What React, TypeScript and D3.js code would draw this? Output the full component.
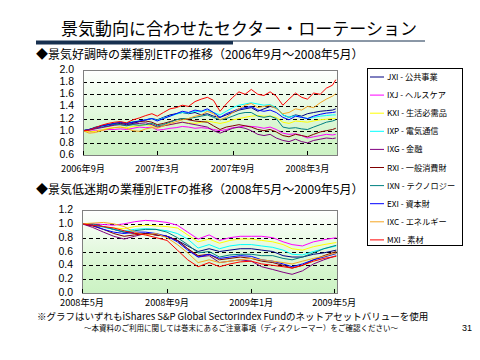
import React from 'react';
import * as d3 from 'd3';

// legend / series meta
const codes = ['JXI', 'IXJ', 'KXI', 'IXP', 'IXG', 'RXI', 'IXN', 'EXI', 'IXC', 'MXI'];
const names = ['公共事業', 'ヘルスケア', '生活必需品', '電気通信', '金融', '一般消費財', 'テクノロジー', '資本財', 'エネルギー', '素材'];
const colors = ['#000080', '#ff00ff', '#ffff00', '#00ffff', '#800080', '#800000', '#008080', '#0000ff', '#f5a623', '#ff0000'];

// 2006/9 - 2008/5
const topDates = [
  '2006-09-01', '2006-09-16', '2006-10-01', '2006-10-16', '2006-11-01', '2006-11-16', '2006-12-01', '2006-12-16',
  '2007-01-01', '2007-01-16', '2007-02-01', '2007-02-16', '2007-03-01', '2007-03-16', '2007-04-01', '2007-04-16',
  '2007-05-01', '2007-05-16', '2007-06-01', '2007-06-16', '2007-07-01', '2007-07-16', '2007-08-01', '2007-08-16',
  '2007-09-01', '2007-09-16', '2007-10-01', '2007-10-16', '2007-11-01', '2007-11-16', '2007-12-01', '2007-12-16',
  '2008-01-01', '2008-01-16', '2008-02-01', '2008-02-16', '2008-03-01', '2008-03-16', '2008-04-01', '2008-04-16',
  '2008-05-01', '2008-05-09',
];
const topJXI = [1.0, 1.02, 1.04, 1.06, 1.08, 1.10, 1.12, 1.10, 1.12, 1.15, 1.18, 1.20, 1.18, 1.22, 1.26, 1.28, 1.30, 1.28, 1.30, 1.26, 1.28, 1.24, 1.22, 1.26, 1.30, 1.34, 1.36, 1.38, 1.32, 1.36, 1.40, 1.38, 1.26, 1.22, 1.26, 1.24, 1.28, 1.30, 1.32, 1.33, 1.34, 1.36];
const topIXJ = [1.0, 0.99, 1.00, 1.01, 1.02, 1.02, 1.03, 1.02, 1.04, 1.06, 1.05, 1.06, 1.01, 1.02, 1.04, 1.05, 1.07, 1.06, 1.04, 1.05, 1.04, 1.02, 1.00, 1.02, 1.05, 1.06, 1.08, 1.07, 1.06, 1.04, 1.06, 1.02, 0.96, 0.94, 0.95, 0.92, 0.88, 0.90, 0.92, 0.94, 0.93, 0.94];
const topKXI = [1.0, 0.98, 0.99, 1.01, 1.04, 1.05, 1.06, 1.05, 1.07, 1.08, 1.10, 1.08, 1.06, 1.08, 1.10, 1.12, 1.14, 1.13, 1.12, 1.14, 1.16, 1.14, 1.12, 1.14, 1.18, 1.20, 1.22, 1.24, 1.25, 1.24, 1.24, 1.22, 1.14, 1.12, 1.16, 1.15, 1.14, 1.16, 1.18, 1.19, 1.20, 1.20];
const topIXP = [1.0, 1.02, 1.05, 1.07, 1.09, 1.12, 1.14, 1.13, 1.15, 1.16, 1.18, 1.20, 1.17, 1.21, 1.24, 1.27, 1.30, 1.29, 1.32, 1.31, 1.34, 1.30, 1.26, 1.32, 1.38, 1.42, 1.44, 1.46, 1.44, 1.42, 1.43, 1.38, 1.26, 1.22, 1.25, 1.22, 1.20, 1.22, 1.24, 1.25, 1.26, 1.26];
const topIXG = [1.0, 1.01, 1.03, 1.05, 1.07, 1.09, 1.10, 1.09, 1.11, 1.12, 1.13, 1.10, 1.06, 1.08, 1.10, 1.12, 1.14, 1.12, 1.10, 1.08, 1.06, 1.00, 0.96, 1.00, 1.04, 1.06, 1.04, 1.00, 0.94, 0.92, 0.94, 0.88, 0.84, 0.82, 0.86, 0.82, 0.80, 0.84, 0.86, 0.88, 0.87, 0.88];
const topRXI = [1.0, 1.02, 1.05, 1.08, 1.10, 1.12, 1.13, 1.12, 1.14, 1.15, 1.16, 1.14, 1.10, 1.12, 1.15, 1.18, 1.20, 1.18, 1.16, 1.15, 1.14, 1.08, 1.02, 1.06, 1.08, 1.10, 1.08, 1.06, 1.02, 1.00, 1.02, 0.98, 0.92, 0.90, 0.94, 0.92, 0.90, 0.94, 0.98, 1.00, 1.02, 1.04];
const topIXN = [1.0, 1.02, 1.06, 1.08, 1.10, 1.11, 1.10, 1.08, 1.10, 1.09, 1.10, 1.12, 1.08, 1.10, 1.14, 1.18, 1.20, 1.20, 1.22, 1.24, 1.26, 1.22, 1.18, 1.20, 1.24, 1.28, 1.30, 1.30, 1.24, 1.22, 1.24, 1.20, 1.06, 1.04, 1.05, 1.03, 1.02, 1.06, 1.10, 1.14, 1.16, 1.18];
const topEXI = [1.0, 1.02, 1.05, 1.08, 1.10, 1.12, 1.14, 1.12, 1.14, 1.16, 1.18, 1.20, 1.16, 1.20, 1.24, 1.28, 1.32, 1.30, 1.34, 1.32, 1.36, 1.30, 1.22, 1.28, 1.32, 1.36, 1.38, 1.40, 1.34, 1.32, 1.34, 1.30, 1.22, 1.18, 1.24, 1.22, 1.20, 1.24, 1.27, 1.29, 1.30, 1.31];
const topIXC = [1.0, 0.96, 0.97, 1.00, 1.03, 1.05, 1.06, 1.04, 1.00, 0.99, 1.03, 1.05, 1.04, 1.08, 1.12, 1.15, 1.18, 1.20, 1.24, 1.26, 1.32, 1.28, 1.18, 1.22, 1.30, 1.36, 1.42, 1.45, 1.38, 1.40, 1.42, 1.36, 1.28, 1.30, 1.36, 1.34, 1.40, 1.38, 1.46, 1.52, 1.57, 1.61];
const topMXI = [1.0, 1.01, 1.05, 1.09, 1.12, 1.14, 1.15, 1.13, 1.18, 1.21, 1.25, 1.28, 1.24, 1.30, 1.36, 1.38, 1.42, 1.40, 1.48, 1.52, 1.55, 1.50, 1.32, 1.44, 1.55, 1.64, 1.60, 1.68, 1.60, 1.58, 1.64, 1.57, 1.42, 1.52, 1.62, 1.55, 1.52, 1.62, 1.60, 1.70, 1.75, 1.84];

// 2008/5 - 2009/5
const botDates = [
  '2008-05-01', '2008-05-16', '2008-06-01', '2008-06-16', '2008-07-01', '2008-07-16', '2008-08-01', '2008-08-16',
  '2008-09-01', '2008-09-16', '2008-10-01', '2008-10-16', '2008-11-01', '2008-11-16', '2008-12-01', '2008-12-16',
  '2009-01-01', '2009-01-16', '2009-02-01', '2009-02-16', '2009-03-01', '2009-03-16', '2009-04-01', '2009-04-16',
  '2009-05-04',
];
const botJXI = [1.0, 0.98, 0.96, 0.92, 0.88, 0.86, 0.86, 0.84, 0.82, 0.76, 0.68, 0.60, 0.64, 0.60, 0.62, 0.64, 0.64, 0.62, 0.60, 0.54, 0.52, 0.52, 0.56, 0.58, 0.62];
const botIXJ = [1.0, 1.0, 0.99, 0.98, 1.00, 1.03, 1.05, 1.04, 1.02, 0.98, 0.88, 0.78, 0.84, 0.76, 0.80, 0.82, 0.82, 0.82, 0.80, 0.74, 0.70, 0.68, 0.74, 0.77, 0.80];
const botKXI = [1.0, 0.98, 0.96, 0.94, 0.93, 0.96, 0.98, 0.97, 0.96, 0.94, 0.84, 0.74, 0.78, 0.72, 0.76, 0.78, 0.78, 0.76, 0.74, 0.70, 0.64, 0.62, 0.67, 0.70, 0.73];
const botIXP = [1.0, 0.98, 0.95, 0.92, 0.90, 0.92, 0.93, 0.92, 0.90, 0.86, 0.78, 0.65, 0.70, 0.64, 0.68, 0.70, 0.70, 0.68, 0.66, 0.62, 0.56, 0.55, 0.60, 0.64, 0.68];
const botIXG = [1.0, 0.95, 0.88, 0.82, 0.78, 0.82, 0.86, 0.84, 0.82, 0.76, 0.64, 0.52, 0.54, 0.44, 0.46, 0.48, 0.46, 0.38, 0.34, 0.30, 0.27, 0.32, 0.42, 0.48, 0.54];
const botRXI = [1.0, 0.97, 0.92, 0.86, 0.82, 0.84, 0.86, 0.84, 0.82, 0.76, 0.64, 0.54, 0.56, 0.48, 0.50, 0.52, 0.50, 0.46, 0.44, 0.40, 0.36, 0.40, 0.48, 0.54, 0.60];
const botIXN = [1.0, 1.0, 0.96, 0.92, 0.88, 0.90, 0.92, 0.92, 0.88, 0.80, 0.70, 0.58, 0.60, 0.52, 0.55, 0.56, 0.56, 0.54, 0.54, 0.50, 0.48, 0.52, 0.58, 0.64, 0.69];
const botEXI = [1.0, 0.98, 0.92, 0.88, 0.86, 0.88, 0.88, 0.86, 0.82, 0.74, 0.62, 0.52, 0.56, 0.50, 0.52, 0.54, 0.53, 0.48, 0.46, 0.42, 0.38, 0.42, 0.48, 0.52, 0.57];
const botIXC = [1.0, 1.01, 1.02, 1.00, 0.96, 0.88, 0.84, 0.86, 0.80, 0.70, 0.58, 0.44, 0.48, 0.44, 0.46, 0.48, 0.50, 0.48, 0.46, 0.44, 0.42, 0.46, 0.50, 0.53, 0.58];
const botMXI = [1.0, 0.98, 0.96, 0.94, 0.90, 0.86, 0.84, 0.80, 0.76, 0.62, 0.48, 0.38, 0.44, 0.38, 0.42, 0.45, 0.46, 0.42, 0.40, 0.38, 0.36, 0.40, 0.46, 0.50, 0.53];

const topSeries = [topJXI, topIXJ, topKXI, topIXP, topIXG, topRXI, topIXN, topEXI, topIXC, topMXI];
const botSeries = [botJXI, botIXJ, botKXI, botIXP, botIXG, botRXI, botIXN, botEXI, botIXC, botMXI];

const topYTicks = [0.6, 0.8, 1.0, 1.2, 1.4, 1.6, 1.8, 2.0];
const botYTicks = [0.0, 0.2, 0.4, 0.6, 0.8, 1.0, 1.2];
const topXTicks = ['2006-09-01', '2007-03-01', '2007-09-01', '2008-03-01'];
const topXLabels = ['2006年9月', '2007年3月', '2007年9月', '2008年3月'];
const botXTicks = ['2008-05-01', '2008-09-01', '2009-01-01', '2009-05-01'];
const botXLabels = ['2008年5月', '2008年9月', '2009年1月', '2009年5月'];

const JP = '"Noto Sans CJK JP", "Noto Sans", sans-serif';
const parse = d3.timeParse('%Y-%m-%d');

interface PanelProps {
  id: string;
  dates: string[];
  series: number[][];
  xStart: string;
  xEnd: string;
  yTicks: number[];
  xTicks: string[];
  xLabels: string[];
  left: number;
  right: number;
  top: number;
  bottom: number;
  labelGap: number;
}

const Panel: React.FC<PanelProps> = ({ id, dates, series, xStart, xEnd, yTicks, xTicks, xLabels, left, right, top, bottom, labelGap }) => {
  const x = d3.scaleTime().domain([parse(xStart)!, parse(xEnd)!]).range([left, right]);
  const y = d3.scaleLinear().domain([yTicks[0], yTicks[yTicks.length - 1]]).range([bottom, top]);
  const ds = dates.map(d => parse(d)!);
  const line = d3.line<number>()
    .x((_, i) => x(ds[i]))
    .y(v => y(v));

  return (
    <g>
      <defs>
        <linearGradient id={id} x1="0" y1="0" x2="0" y2="1">
          <stop offset="0" stopColor="#ffffff" />
          <stop offset="0.75" stopColor="#d4f5cc" />
          <stop offset="1" stopColor="#ccf2c4" />
        </linearGradient>
      </defs>
      <rect x={left} y={top} width={right - left} height={bottom - top} fill={`url(#${id})`} />
      {yTicks.slice(1, -1).map(t => (
        <line key={t} x1={left} x2={right} y1={Math.round(y(t)) + 0.5} y2={Math.round(y(t)) + 0.5}
          stroke="#000" strokeWidth={1} strokeDasharray="4,3" />
      ))}
      {series.map((s, k) => (
        <path key={k} d={line(s)!} fill="none" stroke={colors[k]} strokeWidth={1} />
      ))}
      <rect x={left + 0.5} y={top + 0.5} width={right - left} height={bottom - top} fill="none" stroke="#808080" />
      {xTicks.map(t => (
        <line key={t} x1={Math.round(x(parse(t)!)) + 0.5} x2={Math.round(x(parse(t)!)) + 0.5}
          y1={bottom} y2={bottom - 4} stroke="#000" />
      ))}
      {yTicks.map(t => (
        <text key={t} x={left - 9} y={y(t) + 3} textAnchor="end" fontSize={10.5}
          fontFamily='"Liberation Sans", Arial, sans-serif'>{t.toFixed(1)}</text>
      ))}
      {xTicks.map((t, i) => (
        <text key={t} x={x(parse(t)!)} y={bottom + labelGap} textAnchor="middle" fontSize={9.2}
          fontFamily={JP}>{xLabels[i]}</text>
      ))}
    </g>
  );
};

const App: React.FC = () => {
  const legendTop = 68;
  const legendStep = 18.1;
  return (
    <svg width={480} height={360} style={{ position: 'absolute', left: 0, top: 0, background: '#fff' }}>
      <rect width={480} height={360} fill="#fff" />
      <text x={239} y={35} textAnchor="middle" fontSize={17} fontFamily={JP} fill="#000">
        景気動向に合わせたセクター・ローテーション
      </text>
      <rect x={36} y={40.5} width={197} height={4} fill="#17304f" />
      <line x1={233} x2={425} y1={41} y2={41} stroke="#17304f" strokeWidth={1} />

      <text x={36} y={59} fontSize={12} fontFamily={JP}>◆景気好調時の業種別ETFの推移（2006年9月～2008年5月）</text>
      <Panel id="g1" dates={topDates} series={topSeries} xStart="2006-09-01" xEnd="2008-05-12"
        yTicks={topYTicks} xTicks={topXTicks} xLabels={topXLabels} left={83} right={337} top={70} bottom={155} labelGap={17} />

      <text x={36} y={194} fontSize={12} fontFamily={JP}>◆景気低迷期の業種別ETFの推移（2008年5月～2009年5月）</text>
      <Panel id="g2" dates={botDates} series={botSeries} xStart="2008-05-01" xEnd="2009-05-05"
        yTicks={botYTicks} xTicks={botXTicks} xLabels={botXLabels} left={82} right={337} top={210} bottom={293} labelGap={12.5} />

      <rect x={367.5} y={68.5} width={95} height={177} fill="#fff" stroke="#000" />
      {codes.map((c, i) => {
        const yy = legendTop + 9 + i * legendStep;
        return (
          <g key={c}>
            <line x1={370} x2={384} y1={yy} y2={yy} stroke={colors[i]} strokeWidth={1} />
            <text x={387} y={yy + 3} fontSize={8.2} fontFamily={JP}>{`${c} - ${names[i]}`}</text>
          </g>
        );
      })}

      <text x={37} y={319.5} fontSize={9.5} fontFamily={JP}>※グラフはいずれもiShares S&amp;P Global SectorIndex Fundのネットアセットバリューを使用</text>
      <text x={241} y={331} textAnchor="middle" fontSize={7.5} fontFamily={JP}>～本資料のご利用に関しては巻末にあるご注意事項（ディスクレーマー）をご確認ください～</text>
      <text x={467} y={331} textAnchor="middle" fontSize={9} fontFamily='"Liberation Sans", Arial, sans-serif'>31</text>
    </svg>
  );
};

export default App;
